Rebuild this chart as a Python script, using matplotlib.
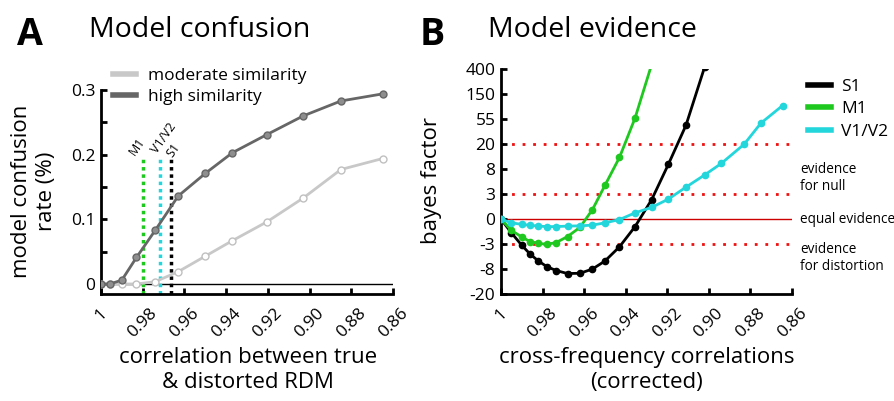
import matplotlib
matplotlib.use('Agg')
import matplotlib.pyplot as plt
from matplotlib.lines import Line2D

plt.rcParams['font.family'] = ['Open Sans', 'DejaVu Sans']

# ---- panel A data: model confusion ----
corr_a = [1.0, 0.9957, 0.990, 0.983, 0.974, 0.963, 0.950, 0.937, 0.9205, 0.903, 0.885, 0.865]
high_sim = [0, 0, 0.006, 0.041, 0.083, 0.136, 0.171, 0.203, 0.231, 0.260, 0.283, 0.294]
moderate_sim = [0, 0, 0, 0, 0.0035, 0.019, 0.043, 0.067, 0.096, 0.133, 0.177, 0.194]
region_names = ['M1', 'V1/V2', 'S1']
region_corr = [0.980, 0.9716, 0.9664]
region_colors = ['#1ec81e', '#22d6dc', 'black']

# ---- panel B data: model evidence (log bayes factor) ----
corr_b = [1.0, 0.995, 0.990, 0.986, 0.982, 0.978, 0.9735, 0.968, 0.962, 0.956, 0.950,
          0.943, 0.9355, 0.9275, 0.9195, 0.911, 0.902, 0.894, 0.883, 0.875, 0.8645]
bf_s1 = [0, -0.55, -1.05, -1.40, -1.68, -1.90, -2.06, -2.18, -2.17, -2.00, -1.68,
         -1.11, -0.30, 0.78, 2.19, 3.76, 6.1]
bf_m1 = [0, -0.45, -0.72, -0.90, -0.97, -1.01, -0.94, -0.70, -0.33, 0.38, 1.35,
         2.47, 4.05, 6.2]
bf_v1v2 = [0, -0.15, -0.21, -0.25, -0.28, -0.30, -0.30, -0.28, -0.27, -0.24, -0.15,
           -0.02, 0.25, 0.47, 0.80, 1.28, 1.77, 2.23, 3.00, 3.84, 4.55]
bf_ticks = [-3, -2, -1, 0, 1, 2, 3, 4, 5, 6]
bf_labels = ['-20', '-8', '-3', '0', '3', '8', '20', '55', '150', '400']
thresholds = [3, 1, -1]

xticks = [1.0, 0.98, 0.96, 0.94, 0.92, 0.90, 0.88, 0.86]
xticklabels = ['1', '0.98', '0.96', '0.94', '0.92', '0.90', '0.88', '0.86']

W, H = 895, 401
def fx(px):
    return px / W
def fy(py):
    return 1 - py / H

fig = plt.figure(figsize=(8.95, 4.01), dpi=100)
axA = fig.add_axes([fx(101), fy(294), fx(393) - fx(101), fy(90) - fy(294)])
axB = fig.add_axes([fx(501), fy(294), fx(792) - fx(501), fy(69.3) - fy(294)])

def style(ax):
    for s in ['top', 'right']:
        ax.spines[s].set_visible(False)
    for s in ['left', 'bottom']:
        ax.spines[s].set_linewidth(2)
    ax.tick_params(direction='in', length=4, width=2, labelsize=12.5, pad=4)
    ax.set_xlim(1.0, 0.86)
    ax.set_xticks(xticks)
    ax.set_xticklabels(xticklabels, rotation=45, ha='center')
    ax.tick_params(axis='x', pad=8)

# ---- panel A ----
style(axA)
axA.set_ylim(-0.0155, 0.3)
axA.set_yticks([0, 0.05, 0.1, 0.15, 0.2, 0.25, 0.3])
axA.set_yticklabels(['0', '', '0.1', '', '0.2', '', '0.3'])
axA.axhline(0, color='black', lw=1, zorder=1)
for name, xc, col in zip(region_names, region_corr, region_colors):
    axA.plot([xc, xc], [-0.0155, 0.193], color=col, lw=2.5, ls=(0, (1, 1.1)), zorder=2)
axA.text(0.9825, 0.212, 'M1', rotation=55, ha='center', va='center', fontsize=9)
axA.text(0.9701, 0.226, 'V1/V2', rotation=55, ha='center', va='center', fontsize=9)
axA.text(0.9650, 0.207, 'S1', rotation=55, ha='center', va='center', fontsize=9)
axA.plot(corr_a, moderate_sim, color='#c8c8c8', lw=2, marker='o', ms=5,
         mfc='white', mec='#c0c0c0', mew=1, zorder=3)
axA.plot(corr_a, high_sim, color='#666666', lw=2, marker='o', ms=5,
         mfc='#8e8e8e', mec='#666666', mew=1, zorder=4)
axA.legend(handles=[Line2D([], [], color='#c8c8c8', lw=4), Line2D([], [], color='#666666', lw=4)],
           labels=['moderate similarity', 'high similarity'], frameon=False,
           loc='upper left', bbox_to_anchor=(fx(113), fy(68)), bbox_transform=fig.transFigure,
           fontsize=12.5, handlelength=1.3, handletextpad=0.7, labelspacing=0.25,
           borderpad=0, borderaxespad=0)

# ---- panel B ----
style(axB)
axB.set_ylim(-3, 6)
axB.set_yticks(bf_ticks)
axB.set_yticklabels(bf_labels)
axB.hlines(thresholds, 1.0, 0.861, colors='#ee1111', lw=2, linestyles=[(0, (1, 2.8))], zorder=1)
axB.hlines([0], 1.0, 0.86, colors='#cc0000', lw=1, zorder=1)
axB.plot(corr_b[:len(bf_s1)], bf_s1, color='black', lw=2, marker='o', ms=4.5, zorder=3)
axB.plot(corr_b[:len(bf_m1)], bf_m1, color='#1ec81e', lw=2, marker='o', ms=4.5, zorder=3)
axB.plot(corr_b, bf_v1v2, color='#22d6dc', lw=2, marker='o', ms=4.5, zorder=3)
axB.legend(handles=[Line2D([], [], color=c, lw=4) for c in ['black', '#1ec81e', '#22d6dc']],
           labels=['S1', 'M1', 'V1/V2'], frameon=False,
           loc='upper left', bbox_to_anchor=(fx(808), fy(79)), bbox_transform=fig.transFigure,
           fontsize=12.5, handlelength=1.3, handletextpad=0.6, labelspacing=0.35,
           borderpad=0, borderaxespad=0)
axB.text(0.8562, 1.64, 'evidence\nfor null', fontsize=9.8, ha='left', va='center', clip_on=False)
axB.text(0.8562, 0, 'equal evidence', fontsize=9.8, ha='left', va='center', clip_on=False)
axB.text(0.8562, -1.56, 'evidence\nfor distortion', fontsize=9.8, ha='left', va='center', clip_on=False)

# ---- labels and titles ----
fig.text(fx(17), fy(45), 'A', fontsize=27, fontweight='bold', va='baseline')
fig.text(fx(420), fy(45), 'B', fontsize=27, fontweight='bold', va='baseline')
fig.text(fx(89), fy(37), 'Model confusion', fontsize=20.5, va='baseline')
fig.text(fx(488), fy(37), 'Model evidence', fontsize=20.5, va='baseline')
fig.text(fx(34), fy(191), 'model confusion\nrate (%)', rotation=90, fontsize=16,
         ha='center', va='center', multialignment='center')
fig.text(fx(432), fy(181), 'bayes factor', rotation=90, fontsize=16, ha='center', va='center')
fig.text(fx(248), fy(370), 'correlation between true\n& distorted RDM', fontsize=16,
         ha='center', va='center', multialignment='center')
fig.text(fx(647), fy(370), 'cross-frequency correlations\n(corrected)', fontsize=16,
         ha='center', va='center', multialignment='center')

fig.savefig('out.png', dpi=100)
